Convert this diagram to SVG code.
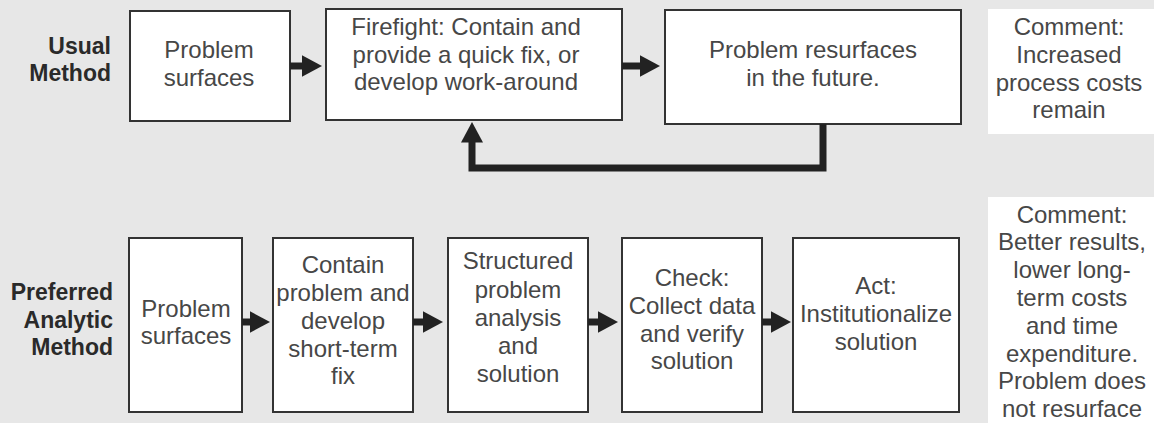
<svg xmlns="http://www.w3.org/2000/svg" width="1154" height="423" viewBox="0 0 1154 423">
<style>
.box{fill:#fff;stroke:#333;stroke-width:2}
.cmt{fill:#fff}
.t{font-family:"Liberation Sans",Arial,sans-serif;font-size:24px;fill:#474747;text-anchor:middle}
.lbl{font-family:"Liberation Sans",Arial,sans-serif;font-size:23px;font-weight:bold;fill:#2a2a2a;text-anchor:end}
.conn{fill:none;stroke:#222;stroke-width:7;marker-end:url(#ah)}
</style>
<defs>
<marker id="ah" markerUnits="userSpaceOnUse" markerWidth="21" markerHeight="23" refX="0.5" refY="11.5" orient="auto">
<path d="M0,0.5 L20.5,11.5 L0,22.5 z" fill="#222"/>
</marker>
</defs>
<rect width="1154" height="423" fill="#e7e7e7"/>
<g id="label-usual">
<text class="lbl" x="111" y="54">Usual</text>
<text class="lbl" x="111" y="81">Method</text>
</g>
<g id="label-preferred">
<text class="lbl" x="113" y="300">Preferred</text>
<text class="lbl" x="113" y="328">Analytic</text>
<text class="lbl" x="113" y="355">Method</text>
</g>
<g id="u1">
<rect class="box" x="130" y="11" width="160" height="110"/>
<text class="t" x="209" y="58">Problem</text>
<text class="t" x="209" y="86">surfaces</text>
</g>
<g id="u2">
<rect class="box" x="326" y="9" width="296" height="111"/>
<text class="t" x="466" y="35">Firefight: Contain and</text>
<text class="t" x="466" y="63">provide a quick fix, or</text>
<text class="t" x="466" y="90">develop work-around</text>
</g>
<g id="u3">
<rect class="box" x="665" y="10" width="296" height="114"/>
<text class="t" x="813" y="58">Problem resurfaces</text>
<text class="t" x="813" y="86">in the future.</text>
</g>
<g id="c1">
<rect class="cmt" x="988" y="9" width="166" height="125"/>
<text class="t" x="1069" y="35">Comment:</text>
<text class="t" x="1069" y="63">Increased</text>
<text class="t" x="1069" y="91">process costs</text>
<text class="t" x="1069" y="118">remain</text>
</g>
<g id="p1">
<rect class="box" x="129" y="238" width="113" height="174"/>
<text class="t" x="186" y="317">Problem</text>
<text class="t" x="186" y="344">surfaces</text>
</g>
<g id="p2">
<rect class="box" x="273" y="238" width="140" height="174"/>
<text class="t" x="343" y="273">Contain</text>
<text class="t" x="343" y="301">problem and</text>
<text class="t" x="343" y="329">develop</text>
<text class="t" x="343" y="357">short-term</text>
<text class="t" x="343" y="384">fix</text>
</g>
<g id="p3">
<rect class="box" x="448" y="238" width="140" height="174"/>
<text class="t" x="518" y="269">Structured</text>
<text class="t" x="518" y="298">problem</text>
<text class="t" x="518" y="326">analysis</text>
<text class="t" x="518" y="354">and</text>
<text class="t" x="518" y="382">solution</text>
</g>
<g id="p4">
<rect class="box" x="622" y="238" width="140" height="174"/>
<text class="t" x="692" y="286">Check:</text>
<text class="t" x="692" y="314">Collect data</text>
<text class="t" x="692" y="342">and verify</text>
<text class="t" x="692" y="369">solution</text>
</g>
<g id="p5">
<rect class="box" x="793" y="238" width="166" height="174"/>
<text class="t" x="876" y="294">Act:</text>
<text class="t" x="876" y="322">Institutionalize</text>
<text class="t" x="876" y="350">solution</text>
</g>
<g id="c2">
<rect class="cmt" x="988" y="197" width="166" height="226"/>
<text class="t" x="1072" y="223">Comment:</text>
<text class="t" x="1072" y="250">Better results,</text>
<text class="t" x="1072" y="278">lower long-</text>
<text class="t" x="1072" y="306">term costs</text>
<text class="t" x="1072" y="334">and time</text>
<text class="t" x="1072" y="362">expenditure.</text>
<text class="t" x="1072" y="389">Problem does</text>
<text class="t" x="1072" y="417">not resurface</text>
</g>
<g id="connectors">
<path class="conn" d="M290,66 H302"/>
<path class="conn" d="M622,66 H640"/>
<path class="conn" d="M823,124 V168 H472 V142"/>
<path class="conn" d="M242,322 H250"/>
<path class="conn" d="M413,322 H423"/>
<path class="conn" d="M588,322 H598"/>
<path class="conn" d="M762,322 H771"/>
</g>
</svg>
